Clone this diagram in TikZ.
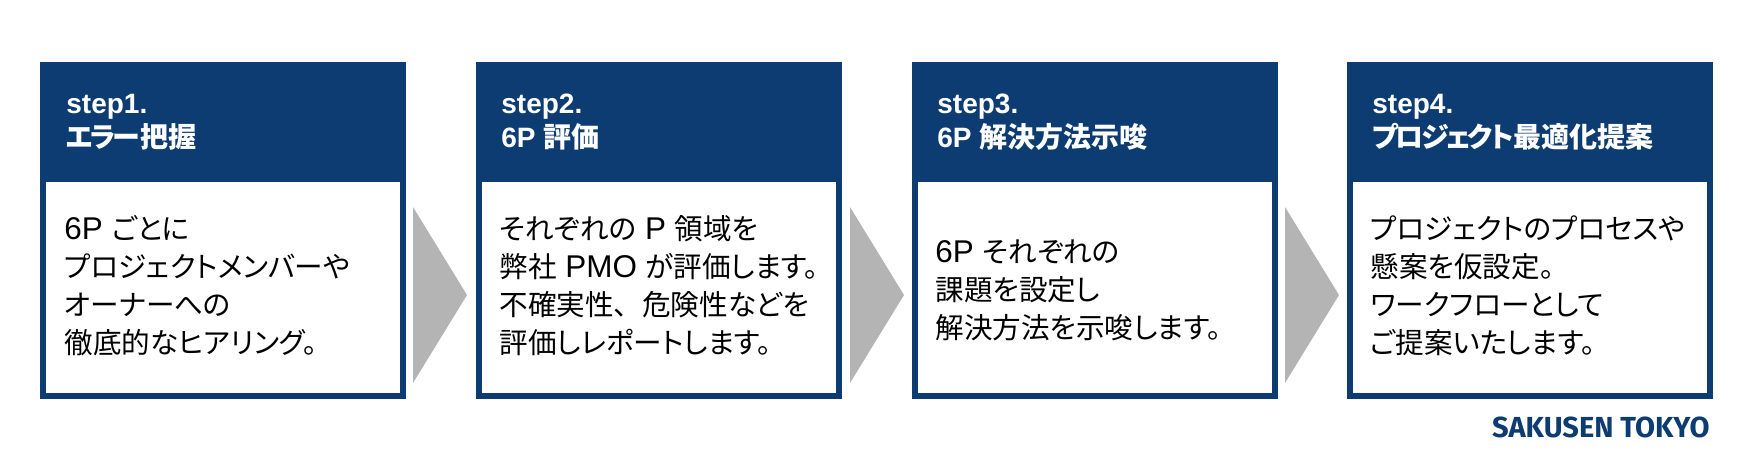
\documentclass[tikz,border=0pt]{standalone}
\usepackage{fontspec}
\setmainfont{Liberation Sans}
\newfontfamily\cjk[RawFeature=+palt]{Noto Sans CJK JP}
\newfontfamily\latfont[Scale=1.1]{Liberation Sans}
\newfontfamily\logofont{Fira Sans}
\newcommand{\latin}[1]{{\latfont #1}}
\newcommand{\kana}[1]{{\addfontfeature{LetterSpace=-10}#1}}
\definecolor{navy}{HTML}{0C3C72}
\definecolor{arrowgray}{HTML}{B4B4B4}
\tikzset{
  headbox/.style={fill=navy, minimum width=183pt, minimum height=60pt, inner sep=0pt, outer sep=0pt},
  bodybox/.style={draw=navy, line width=3pt, fill=white, minimum width=180pt, minimum height=108.5pt, inner sep=0pt, outer sep=0pt},
  headtext/.style={anchor=west, align=left, text=white, inner sep=0pt, font=\bfseries\fontsize{14}{17}\selectfont},
  bodytext/.style={anchor=west, align=left, inner sep=0pt, font=\cjk\fontsize{14.3}{19}\selectfont},
  chevron/.style={fill=arrowgray}
}
\begin{document}
\begin{tikzpicture}[x=0.5pt, y=-0.5pt]
    \useasboundingbox (0, 0) rectangle (1754, 461);

    % step 1
    \node[bodybox] (body1) at (223, 287.5) {};
    \node[headbox] (head1) at (223, 122) {};
    \node[headtext] (title1) at (66, 122.5) {step1.\\{\cjk \kana{エラー}把握}};
    \node[bodytext] (text1) at (64, 286) {\latin{6P }ごとに\\プロジェクトメンバーや\\オーナーへの\\徹底的なヒアリング。};

    % step 2
    \node[bodybox] (body2) at (658.5, 287.5) {};
    \node[headbox] (head2) at (658.5, 122) {};
    \node[headtext] (title2) at (501, 122.5) {step2.\\6P {\cjk 評価}};
    \node[bodytext] (text2) at (499, 286) {それぞれの\latin{ P }領域を\\弊社\latin{ PMO }が評価します。\\不確実性、\hspace{0.5em}危険性などを\\評価しレポートします。};

    % step 3
    \node[bodybox] (body3) at (1094.5, 287.5) {};
    \node[headbox] (head3) at (1094.5, 122) {};
    \node[headtext] (title3) at (937, 122.5) {step3.\\6P {\cjk 解決方法示唆}};
    \node[bodytext] (text3) at (935, 290) {\latin{6P }それぞれの\\課題を設定し\\解決方法を示唆します。};

    % step 4
    \node[bodybox] (body4) at (1529.5, 287.5) {};
    \node[headbox] (head4) at (1529.5, 122) {};
    \node[headtext] (title4) at (1372, 122.5) {step4.\\{\cjk \kana{プロジェクト}最適化提案}};
    \node[bodytext] (text4) at (1370, 286) {プロジェクトのプロセスや\\懸案を仮設定。\\ワークフローとして\\ご提案いたします。};

    % Gray arrows between the steps
    \fill[chevron] (413, 207) -- (467, 295) -- (413, 383) -- cycle;
    \fill[chevron] (850, 207) -- (904, 295) -- (850, 383) -- cycle;
    \fill[chevron] (1285, 207) -- (1339, 295) -- (1285, 383) -- cycle;

    % Company name
    \node[anchor=east, inner sep=0pt, text=navy, font=\logofont\bfseries\fontsize{14.5}{17}\selectfont] (logo) at (1710, 427) {SAKUSEN TOKYO};
\end{tikzpicture}
\end{document}
